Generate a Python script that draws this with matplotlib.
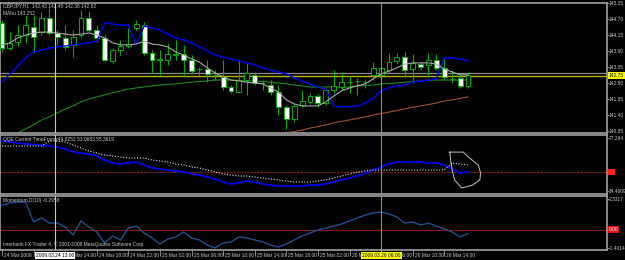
import matplotlib
matplotlib.use("Agg")
import matplotlib.pyplot as plt
import matplotlib.transforms as mtransforms

# GBPJPY H1 bars, bar 0 = 24 Mar 2009 06:00
opens = [144.56, 143.70, 143.91, 144.15, 144.43, 144.25, 144.73, 144.22, 144.05, 143.81,
         144.15, 144.73, 144.32, 144.05, 143.26, 143.63, 143.77, 144.39, 144.49, 143.53,
         143.29, 143.29, 143.46, 143.50, 143.29, 142.98, 142.98, 142.78, 142.71, 142.36,
         142.19, 142.60, 142.78, 142.50, 142.43, 142.19, 141.67, 141.26, 141.74, 141.85,
         142.06, 141.81, 142.26, 142.36, 142.53, 142.57, 142.53, 142.78, 142.78, 142.95,
         143.26, 143.39, 142.98, 143.15, 143.12, 143.29, 143.02, 142.64, 142.67, 142.40]
highs = [144.67, 144.25, 144.49, 144.84, 144.84, 144.94, 145.08, 144.32, 144.49, 144.32,
         145.01, 144.98, 144.49, 144.15, 143.70, 143.98, 144.39, 144.67, 144.60, 143.63,
         143.63, 143.88, 143.98, 143.81, 143.46, 143.05, 143.29, 142.95, 143.29, 142.43,
         143.29, 143.19, 142.88, 142.60, 142.60, 142.43, 141.74, 141.78, 142.26, 142.16,
         142.12, 142.33, 142.95, 142.88, 142.74, 142.67, 142.64, 143.22, 143.08, 143.53,
         143.53, 143.57, 143.50, 143.22, 143.53, 143.50, 143.39, 142.95, 142.84, 142.88]
lows = [143.57, 143.63, 143.77, 143.88, 143.53, 144.15, 144.15, 143.81, 143.63, 143.39,
        144.05, 144.25, 143.91, 143.22, 143.19, 143.46, 143.70, 144.32, 143.46, 142.84,
        142.78, 143.12, 143.29, 142.78, 142.84, 142.78, 142.53, 142.60, 142.26, 142.16,
        142.16, 142.09, 142.43, 142.26, 142.09, 141.40, 140.92, 141.16, 141.67, 141.78,
        141.67, 141.74, 142.16, 142.26, 142.16, 142.09, 142.33, 142.60, 142.67, 142.84,
        143.15, 142.71, 142.50, 142.95, 142.71, 142.95, 142.60, 142.50, 142.33, 142.33]
closes = [143.70, 143.88, 144.15, 144.49, 144.08, 144.73, 144.22, 144.08, 143.74, 144.08,
          144.73, 144.32, 144.05, 143.29, 143.63, 143.77, 143.84, 144.53, 143.53, 143.29,
          143.33, 143.50, 143.50, 143.29, 142.91, 142.99, 142.81, 142.77, 142.36, 142.22,
          142.60, 142.84, 142.50, 142.49, 142.19, 141.67, 141.26, 141.71, 141.88, 142.06,
          141.81, 142.26, 142.40, 142.53, 142.54, 142.56, 142.54, 143.02, 143.02, 143.22,
          143.39, 142.95, 143.19, 143.05, 143.29, 143.02, 142.71, 142.63, 142.40, 142.78]

blue_band = [142.53, 142.81, 143.08, 143.36, 143.57, 143.63, 143.70, 143.74, 143.77, 143.81,
             143.84, 143.88, 143.94, 144.56, 144.53, 144.49, 144.49, 143.81, 144.46, 144.39,
             144.32, 144.18, 144.05, 143.98, 143.88, 143.74, 143.60, 143.46, 143.39, 143.33,
             143.26, 143.19, 143.12, 143.02, 142.95, 142.88, 142.81, 142.67, 142.57, 142.47,
             142.36, 142.29, 141.71, 141.68, 141.68, 141.71, 141.81, 141.98, 142.23, 142.33,
             142.40, 142.43, 142.53, 142.57, 142.60, 142.64, 143.36, 143.36, 143.33, 143.26]
ma_fast = [143.81, 143.88, 144.05, 144.15, 144.22, 144.25, 144.25, 144.22, 144.18, 144.15,
           144.18, 144.22, 144.15, 144.05, 143.88, 143.81, 143.81, 143.84, 143.94, 143.84,
           143.81, 143.74, 143.57, 143.46, 143.33, 143.22, 143.02, 142.84, 142.71, 142.60,
           142.57, 142.53, 142.50, 142.47, 142.33, 142.19, 141.92, 141.78, 141.71, 141.71,
           141.71, 141.85, 142.05, 142.23, 142.33, 142.40, 142.47, 142.64, 142.81, 142.91,
           143.02, 143.15, 143.19, 143.19, 143.19, 143.15, 142.98, 142.88, 142.78, 142.78]
ma_mid = [140.54, 140.64, 140.78, 140.92, 141.06, 141.23, 141.33, 141.47, 141.61, 141.71,
          141.85, 141.95, 142.02, 142.09, 142.16, 142.23, 142.29, 142.33, 142.36, 142.40,
          142.43, 142.45, 142.47, 142.50, 142.53, 142.55, 142.57, 142.60, 142.60, 142.60,
          142.59, 142.57, 142.57, 142.55, 142.53, 142.50, 142.47, 142.43, 142.40, 142.36,
          142.36, 142.36, 142.36, 142.36, 142.36, 142.40, 142.41, 142.43, 142.47, 142.48,
          142.50, 142.53, 142.55, 142.57, 142.59, 142.60, 142.60, 142.60, 142.60, 142.60]
ma_slow_start = 35
ma_slow = [140.71, 140.78, 140.83, 140.88, 140.95, 141.00, 141.06, 141.13, 141.18, 141.23,
           141.28, 141.33, 141.40, 141.45, 141.50, 141.55, 141.61, 141.66, 141.71, 141.76,
           141.81, 141.88, 141.92, 141.97, 142.02]

qqe_rsi = [74.84, 74.03, 73.23, 72.42, 72.01, 71.61, 70.80, 69.99, 68.38, 65.96,
           65.15, 64.34, 62.73, 59.50, 57.07, 56.27, 57.07, 57.88, 55.46, 53.04,
           52.23, 51.42, 50.61, 49.81, 48.19, 47.38, 45.77, 44.15, 41.73, 40.11,
           40.92, 42.54, 41.73, 40.11, 39.31, 38.50, 38.50, 38.50, 38.50, 39.31,
           39.31, 40.11, 41.73, 43.35, 44.96, 46.57, 49.00, 51.42, 53.84, 56.27,
           57.88, 57.88, 57.88, 57.88, 57.07, 57.07, 55.46, 52.23, 49.00, 49.83]
qqe_trail = [70.80, 70.80, 70.80, 70.80, 70.80, 70.80, 74.84, 74.84, 74.03, 71.61,
             69.19, 66.76, 65.15, 63.53, 62.73, 61.92, 61.11, 61.11, 61.11, 59.50,
             58.69, 57.88, 56.27, 55.46, 53.84, 53.04, 51.42, 49.81, 48.19, 47.38,
             46.57, 46.57, 45.77, 44.96, 44.15, 43.35, 42.54, 41.73, 41.73, 41.73,
             42.54, 43.35, 44.96, 46.57, 48.19, 49.81, 50.61, 51.42, 51.42, 51.42,
             51.42, 51.42, 51.42, 51.42, 51.42, 51.42, 51.42, 57.07, 56.27, 55.46]
momentum = [1.87, 2.03, 2.10, 2.10, 0.58, 0.88, 0.50, 0.50, 0.20, -0.41,
            0.66, 0.20, -0.18, -1.02, -0.49, -0.79, 0.12, 0.27, -0.26, -0.64,
            -1.10, -0.72, -0.56, -0.18, -0.64, -0.79, -1.17, -1.40, -1.02, -0.94,
            -0.56, -0.64, -0.79, -0.94, -1.17, -1.33, -1.10, -0.79, -0.49, -0.26,
            -0.03, 0.12, 0.27, 0.43, 0.66, 0.88, 1.11, 1.27, 1.34, 1.19,
            0.96, 0.50, 0.58, 0.35, 0.50, 0.27, 0.05, -0.18, -0.56, -0.30]

# hand drawn circle on the QQE window (bar, value)
circle_x = [56.7, 58.4, 59.2, 60.3, 60.6, 60.5, 59.6, 58.2, 57.3, 57.0, 56.8, 56.7]
circle_y = [65.9, 65.9, 61.1, 55.5, 49.0, 43.4, 39.3, 36.9, 43.4, 51.4, 59.5, 65.9]

price_ticks = [145.25, 144.70, 144.15, 143.60, 143.05, 142.50, 141.95, 141.40, 140.85]
time_bars = [0, 4, 8, 12, 16, 20, 24, 28, 32, 36, 40, 44, 48, 52, 56]
time_labels = ["24 Mar 2009", "24 Mar 10:00", "24 Mar 14:00", "24 Mar 18:00", "24 Mar 22:00",
               "25 Mar 02:00", "25 Mar 06:00", "25 Mar 10:00", "25 Mar 14:00", "25 Mar 18:00",
               "25 Mar 22:00", "26 Mar 02:00", "26 Mar 06:00", "26 Mar 10:00", "26 Mar 14:00"]
bid, ask = 142.75, 142.83
cross_bars = [6.7, 48.0]

plt.rcParams["font.family"] = ["Liberation Sans", "DejaVu Sans"]
GRAY = "#a0a0a0"
TXT = "#c8c8c8"
FS = 3.5
W, H = 625, 260
XLIM = (-0.25, 76.6)

fig = plt.figure(figsize=(6.25, 2.6), dpi=100, facecolor="black")


def panel(top, bottom):
    ax = fig.add_axes([0, 1 - bottom / H, 607 / W, (bottom - top) / H])
    ax.set_facecolor("black")
    ax.set_xlim(*XLIM)
    for s in ax.spines.values():
        s.set_color(GRAY)
        s.set_linewidth(1.2)
    ax.yaxis.tick_right()
    ax.tick_params(axis="y", colors=GRAY, labelcolor=TXT, labelsize=FS, length=1.2, pad=0.3, width=0.6)
    ax.tick_params(axis="x", bottom=False, labelbottom=False)
    return ax


def right_box(a, y, s, fg, bg):
    a.text(1.003, y, s, transform=mtransforms.blended_transform_factory(a.transAxes, a.transData),
           fontsize=FS, color=fg, va="center", ha="left", clip_on=False,
           bbox=dict(boxstyle="square,pad=0.15", facecolor=bg, edgecolor="none"))


# ---- main price window ----
ax = panel(3, 133)
ax.set_ylim(140.78, 145.25)
bars = list(range(len(opens)))
for i in bars:
    ax.vlines(i, lows[i], highs[i], color="#00b000", lw=0.8, zorder=3)
    o, c = opens[i], closes[i]
    face = "white" if c < o else "black"
    ax.bar(i, c - o, bottom=o, width=0.62, facecolor=face, edgecolor="#00b000", lw=0.7, zorder=4)
ax.plot(bars, blue_band, color="#0000ff", lw=1.0, zorder=5)
ax.plot(bars, ma_fast, color="#a8a8a8", lw=0.8, zorder=5)
ax.plot(bars, ma_mid, color="#1a8a1a", lw=0.8, zorder=2)
ax.plot(range(ma_slow_start, ma_slow_start + len(ma_slow)), ma_slow, color="#a0522d", lw=0.8, zorder=2)
ax.axhline(ask, color="#8c8c8c", lw=0.9, zorder=1)
ax.axhline(bid, color="#b4b400", lw=1.0, zorder=1)
ax.set_yticks(price_ticks, [f"{p:.2f}" for p in price_ticks])
right_box(ax, bid, f"{bid:.2f}", "black", "#ffff00")
ax.text(0.005, 0.995, "GBPJPY,H1  142.43 142.40 142.36 142.62", transform=ax.transAxes,
        fontsize=FS, color=TXT, va="top")
ax.text(0.005, 0.94, "MAbu 143.252", transform=ax.transAxes, fontsize=FS, color=TXT, va="top")

# ---- QQE window ----
aq = panel(135, 194)
aq.set_ylim(32.04, 79.69)
aq.plot(bars, qqe_rsi, color="#0000ff", lw=1.2, zorder=3)
aq.plot(bars, qqe_trail, color="#e0e0e0", lw=0.8, ls=(0, (1, 1.5)), zorder=3)
aq.axhline(50, color="#8b1a1a", lw=0.8, ls=(0, (2, 1)), zorder=1)
aq.plot(circle_x, circle_y, color="#c0c0c0", lw=0.7, zorder=4)
aq.set_yticks([77.264, 34.4609], ["77.264", "34.4609"])
right_box(aq, 50, "50", "#ff2020", "#ff2020")
aq.text(0.005, 0.96, "QQE Current TimeFrame49.8252 53.0683 55.3619", transform=aq.transAxes,
        fontsize=FS, color=TXT, va="top")

# ---- Momentum window ----
am = panel(196, 250)
am.set_ylim(-1.554, 2.56)
am.plot(bars, momentum, color="#1f4f8f", lw=1.0, zorder=3)
am.axhline(0, color="#8b1a1a", lw=0.8, zorder=1)
am.set_yticks([2.3317, -1.4014], ["2.3317", "-1.4014"])
right_box(am, 0, "0.00", "white", "#e01010")
am.text(0.005, 0.96, "Momentum,D(10) -0.2958", transform=am.transAxes, fontsize=FS, color=TXT, va="top")
am.text(0.005, 0.06, "Interbank FX Trader 4, \u00a9 2001-2008 MetaQuotes Software Corp.",
        transform=am.transAxes, fontsize=FS, color=TXT, va="bottom")

# time axis
am.set_xticks(time_bars)
am.tick_params(axis="x", bottom=True, labelbottom=False, length=4, color=GRAY, width=0.6, direction="out")
tlab = mtransforms.offset_copy(mtransforms.blended_transform_factory(am.transData, am.transAxes),
                               fig=fig, x=2, y=0, units="dots")
for b, lab in zip(time_bars, time_labels):
    am.text(b, -0.1, lab, transform=tlab, fontsize=FS, color=TXT, va="center", ha="left", clip_on=False)

# crosshairs
for a in (ax, aq, am):
    a.axvline(cross_bars[0], color="#c8c8c8", lw=0.8, zorder=6)
    a.axvline(cross_bars[1], color="#a0a000", lw=0.8, zorder=6)
tc = mtransforms.blended_transform_factory(am.transData, am.transAxes)
am.text(cross_bars[0], -0.1, "2009.03.24 13:00", transform=tc, fontsize=FS, color="black", va="center",
        ha="center", clip_on=False, zorder=10,
        bbox=dict(boxstyle="square,pad=0.25", facecolor="white", edgecolor="none"))
am.text(cross_bars[1], -0.1, "2009.03.26 06:00", transform=tc, fontsize=FS, color="black", va="center",
        ha="center", clip_on=False, zorder=10,
        bbox=dict(boxstyle="square,pad=0.25", facecolor="#ffff00", edgecolor="none"))

fig.savefig("out.png", dpi=100, facecolor="black")
